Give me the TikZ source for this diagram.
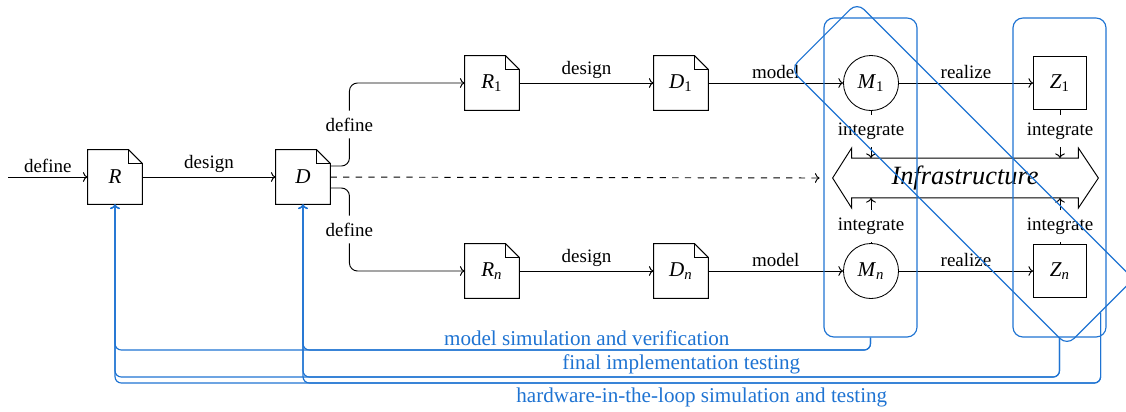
\documentclass[tikz,border=0pt]{standalone}
\usepackage{fontspec}
\setmainfont{Liberation Serif}
\usetikzlibrary{calc,arrows.meta}
\definecolor{fbblue}{RGB}{30,115,210}
\newcommand\symb[2]{\textit{#1}\textsubscript{#2}}
\begin{document}
\begin{tikzpicture}[x=0.474pt,y=-0.474pt,
  >={To[length=2.2pt,width=4.6pt]},
  doc/.style={minimum width=25.6pt,minimum height=25.6pt,inner sep=0pt},
  mcirc/.style={circle,draw,minimum size=26.1pt,inner sep=0pt},
  zbox/.style={draw,minimum size=25.1pt,inner sep=0pt},
  flow/.style={->,line width=0.45pt},
  lbl/.style={font=\small},
  elbl/.style={font=\small,inner sep=2pt},
  grp/.style={draw=fbblue,rounded corners=4.7pt,line width=0.55pt,inner sep=0pt},
  fb/.style={->,draw=fbblue,line width=0.55pt,rounded corners=3pt},
  fblbl/.style={text=fbblue,inner sep=2pt}]
\useasboundingbox (0,0) rectangle (1126,411);

% main nodes
\node[doc] (R) at (115,177) {\textit{R}};
\node[doc] (D) at (303,177) {\textit{D}};
\node[doc] (R1) at (492,83) {\symb{R}{1}};
\node[doc] (D1) at (681,83) {\symb{D}{1}};
\node[doc] (Rn) at (492,271) {\symb{R}{\textit{n}}};
\node[doc] (Dn) at (681,271) {\symb{D}{\textit{n}}};
\node[mcirc] (M1) at (871,83) {\symb{M}{1}};
\node[mcirc] (Mn) at (871,271) {\symb{M}{\textit{n}}};
\node[zbox] (Z1) at (1060,83) {\symb{Z}{1}};
\node[zbox] (Zn) at (1060,271) {\symb{Z}{\textit{n}}};

\foreach \n in {R,D,R1,D1,Rn,Dn}{
  \draw[line width=0.45pt] (\n.south west) -- (\n.north west) -- ($(\n.north east)+(-14,0)$) -- ($(\n.north east)+(0,14)$) -- (\n.south east) -- cycle;
  \draw[line width=0.45pt] ($(\n.north east)+(-14,0)$) |- ($(\n.north east)+(0,14)$);
}

% infrastructure double arrow
\node[minimum width=107.1pt,minimum height=18.5pt,inner sep=0pt,font=\fontsize{12.5}{14}\selectfont\itshape] (infra) at (965,178) {Infrastructure};
\draw[line width=0.45pt] (infra.north west) -- ++(0,-10) -- ($(infra.west)+(-19,0)$) coordinate (inftip)
  -- ($(infra.south west)+(0,10)$) -- (infra.south west) -- (infra.south east)
  -- ++(0,10) -- ($(infra.east)+(20,0)$) -- ($(infra.north east)+(0,-10)$) -- (infra.north east) -- cycle;

% connectors
\coordinate (in) at (8,177);
\draw[flow] (in) -- (R) node[midway,above,elbl]{define};
\draw[flow] (R) -- (D) node[midway,above,elbl]{design};
\draw[flow,rounded corners=3.8pt] ($(D.east)+(0,-11)$) -- ++(19,0) |- (R1) node[pos=0.25,fill=white,lbl]{define};
\draw[flow,rounded corners=3.8pt] ($(D.east)+(0,11)$) -- ++(19,0) |- (Rn) node[pos=0.25,fill=white,lbl]{define};
\draw[flow,dashed] (D) -- ($(inftip)+(-13,0)$);

\draw[flow] (R1) -- (D1) node[midway,above,elbl]{design};
\draw[flow] (D1) -- (M1) node[midway,above,elbl]{model};
\draw[flow] (M1) -- (Z1) node[midway,above,elbl]{realize};
\draw[flow] (Rn) -- (Dn) node[midway,above,elbl]{design};
\draw[flow] (Dn) -- (Mn) node[midway,above,elbl]{model};
\draw[flow] (Mn) -- (Zn) node[midway,above,elbl]{realize};

\node[lbl] (i1) at (871,131) {integrate};
\node[lbl] (i2) at (1060,131) {integrate};
\node[lbl] (i3) at (871,226) {integrate};
\node[lbl] (i4) at (1060,226) {integrate};
\draw[line width=0.45pt] (M1) -- (i1); \draw[flow] (i1) -- (i1 |- infra.north);
\draw[line width=0.45pt] (Z1) -- (i2); \draw[flow] (i2) -- (i2 |- infra.north);
\draw[line width=0.45pt] (Mn) -- (i3); \draw[flow] (i3) -- (i3 |- infra.south);
\draw[line width=0.45pt] (Zn) -- (i4); \draw[flow] (i4) -- (i4 |- infra.south);

% groups
\node[grp,minimum width=44.1pt,minimum height=151.2pt] (LB) at (870.5,177.5) {};
\node[grp,minimum width=44.1pt,minimum height=151.2pt] (RB) at (1059.5,177.5) {};
\node[grp,minimum width=185.3pt,minimum height=44.6pt,rotate=-45] (DB) at (962,174) {};

% feedback
\coordinate (y1) at (0,350);
\coordinate (y2) at (0,377);
\coordinate (y3) at (0,383);
\draw[fb] (LB.south) -- (LB.south |- y1) -| (D) node[pos=0.25,above,fblbl]{model simulation and verification};
\draw[fb] (LB.south) -- (LB.south |- y1) -| (R);
\draw[fb] (RB.south) -- (RB.south |- y2) -| (D) node[pos=0.25,above,fblbl,inner sep=1pt]{final implementation testing};
\draw[fb] (RB.south) -- (RB.south |- y2) -| (R);
\draw[fb] (DB.east) -- (DB.east |- y3) -| (D) node[pos=0.25,below,fblbl]{hardware-in-the-loop simulation and testing};
\draw[fb] (DB.east) -- (DB.east |- y3) -| (R);
\end{tikzpicture}
\end{document}
